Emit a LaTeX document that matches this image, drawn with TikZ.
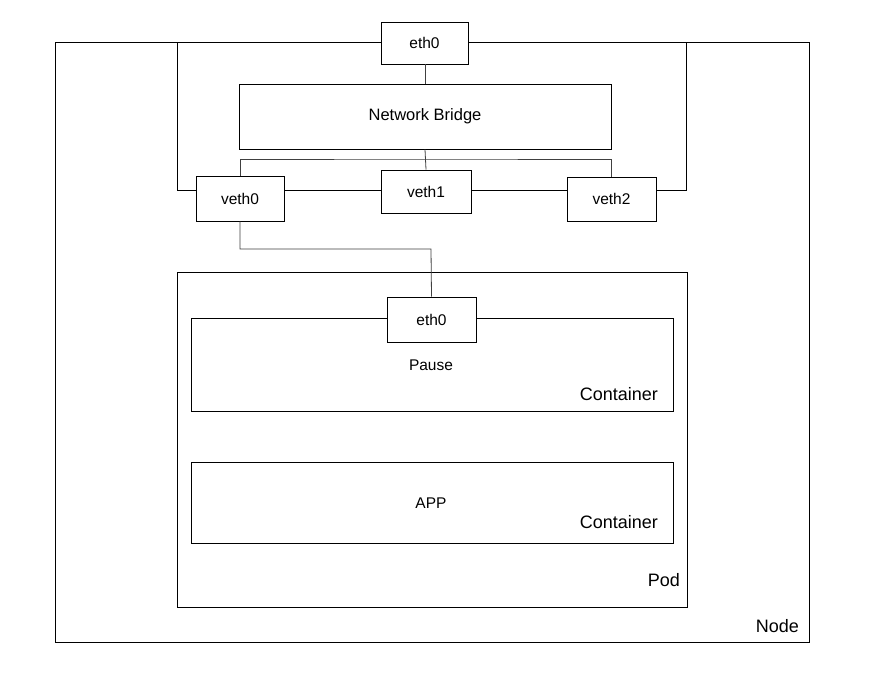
\documentclass[tikz,border=0pt]{standalone}
\usepackage{fontspec}
\setmainfont{Liberation Sans}
\begin{document}
\begin{tikzpicture}[x=1pt,y=-1pt,
  box/.style={draw=black,line width=0.9pt,fill=white,inner sep=0pt,font=\fontsize{15.5}{18}\selectfont},
  link/.style={draw=black!75,line width=0.8pt},
  side/.style={draw=black,line width=0.9pt},
  lbl/.style={font=\fontsize{18}{21}\selectfont,inner sep=0pt,anchor=east}]
\useasboundingbox (0,0) rectangle (881,683);
% Node frame
\node[box,minimum width=754,minimum height=600] (node) at (432,342) {};
\node[lbl] (nodelbl) at (799,626) {Node};
% side lines
\coordinate (lt) at (177,42);
\coordinate (rt) at (686,42);
% top eth0
\node[box,minimum width=87,minimum height=42] (eth) at (424.5,43) {eth0};
\node[box,minimum width=372,minimum height=65,font=\fontsize{16.5}{19}\selectfont] (nb) at (425,116.5) {Network Bridge};
\node[box,minimum width=88,minimum height=45] (v0) at (240,198.5) {veth0};
\node[box,minimum width=90,minimum height=43] (v1) at (426,191.5) {veth1};
\node[box,minimum width=89,minimum height=44] (v2) at (611.5,199) {veth2};
\draw[link] (eth.south -| nb.north) -- (nb.north);
\draw[link] (nb.south) -- (v1.north);
\coordinate (bus) at (426,159);
\draw[link] (v0.north) |- (bus) -| (v2.north);
% side connections
\draw[side] (lt) |- (v0.west |- 0,190);
\draw[side] (rt) |- (v2.east |- 0,190);
\draw[side] (v0.east |- 0,190) -- (v1.west |- 0,190);
\draw[side] (v1.east |- 0,190) -- (v2.west |- 0,190);
% Pod
\node[box,minimum width=510,minimum height=335] (pod) at (432,439.5) {};
\node[lbl] (podlbl) at (680,580) {Pod};
\node[box,minimum width=482,minimum height=93] (pause) at (432,364.5) {};
\node[font=\fontsize{15.5}{18}\selectfont] (pausetxt) at (431,365) {Pause};
\node[lbl] (c1) at (658,394) {Container};
\node[box,minimum width=89,minimum height=45] (eth1) at (431.5,319.5) {eth0};
\node[box,minimum width=482,minimum height=81] (app) at (432,502.5) {};
\node[font=\fontsize{15.5}{18}\selectfont] (apptxt) at (431,503) {APP};
\node[lbl] (c2) at (658,522) {Container};
\coordinate (mid) at (431,249);
\draw[link] (v0.south) |- (mid) -- (eth1.north);
\end{tikzpicture}
\end{document}
